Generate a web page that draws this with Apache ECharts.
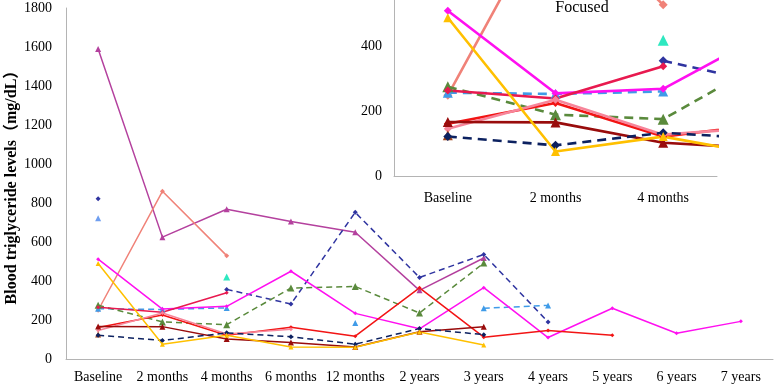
<!DOCTYPE html>
<html lang="en">
<head>
    <meta charset="UTF-8">
    <title>Blood triglyceride levels</title>
    <script src="https://cdn.jsdelivr.net/npm/echarts/dist/echarts.min.js"></script>
    <style>
        html, body { margin: 0; padding: 0; background: #fff; }
        #main { width: 774px; height: 385px; }
    </style>
</head>
<body>
<div id="main"></div>
<script>
    // x categories
    let categories = ['Baseline', '2 months', '4 months', '6 months', '12 months', '2 years', '3 years', '4 years', '5 years', '6 years', '7 years'];
    let insetCats = ['Baseline', '2 months', '4 months'];
    let yTicks = [0, 1800, 200];      // min, max, step of the big chart
    let insetTicks = [0, 545, 200];   // min, max, step of the focused chart

    // one array per patient (mg/dL), null = no measurement
    let purpleTri = [1590, 625, 768, 705, 650, 352, 518];
    let salmonLine = [250, 860, 530];
    let blueDash = [822, null, 357, 282, 752, 418, 536, 190];
    let lightBlueDash = [258, 254, 262, null, 185, null, 260, 275];
    let lightBlueBase = [722];
    let cyanPoint = [null, null, 420];
    let greenDash = [276, 190, 176, 364, 372, 236, 492];
    let magentaLine = [512, 256, 270, 450, 234, 155, 366, 110, 260, 132, 193];
    let redLine = [162, 226, 122, 163, 117, 365, 112, 146, 122];
    let crimsonLine = [265, 240, 340];
    let pinkLine = [146, 236, 128, 152];
    let darkRedTri = [167, 166, 103, 84, 62, 140, 165];
    let brownTri = [126];
    let navyDash = [122, 95, 134, 114, 76, 156, 125];
    let yellowLine = [490, 76, 122, 62, 60, 138, 72];

    const serif = '"Liberation Serif", "Times New Roman", "Noto Sans CJK SC", serif';
    const axisGray = '#b4b4b4';

    // data, colour, symbol, dashed?, symbol size (main)
    let patients = [
        [purpleTri, '#b4419e', 'triangle', false, 6],
        [salmonLine, '#f08278', 'diamond', false, 5],
        [blueDash, '#2f34a0', 'diamond', true, 5],
        [lightBlueDash, '#3f9be8', 'triangle', true, 6],
        [lightBlueBase, '#6f9ef0', 'triangle', false, 6],
        [cyanPoint, '#2ee8c0', 'triangle', false, 7],
        [greenDash, '#5a8a3c', 'triangle', true, 7],
        [magentaLine, '#ff10f0', 'diamond', false, 4],
        [redLine, '#f21414', 'diamond', false, 4],
        [crimsonLine, '#e8194f', 'diamond', false, 4],
        [pinkLine, '#f7859a', 'diamond', false, 4],
        [darkRedTri, '#990c0c', 'triangle', false, 6],
        [brownTri, '#a0441a', 'triangle', false, 6],
        [navyDash, '#0c2160', 'diamond', true, 5],
        [yellowLine, '#ffc000', 'triangle', false, 5]
    ];

    let series = [];
    patients.forEach(p => {
        series.push({
            type: 'line',
            xAxisIndex: 0,
            yAxisIndex: 0,
            data: p[0],
            connectNulls: false,
            symbol: p[2],
            symbolSize: p[4],
            color: p[1],
            lineStyle: {width: 1.5, type: p[3] ? [6, 4] : 'solid'},
            animation: false,
            z: 2
        });
    });
    // focused view: first four time points, cut at the grid edge
    patients.forEach(p => {
        let pts = [];
        for (let i = 0; i < 4 && i < p[0].length; i++) {
            pts.push([i, p[0][i] == null ? '-' : p[0][i]]);
        }
        series.push({
            type: 'line',
            xAxisIndex: 1,
            yAxisIndex: 1,
            data: pts,
            connectNulls: false,
            clip: true,
            symbol: p[2],
            symbolSize: p[4] + 4,
            color: p[1],
            lineStyle: {width: 2.6, type: p[3] ? [9, 6] : 'solid'},
            animation: false,
            z: 5
        });
    });

    let myChart = echarts.init(document.getElementById('main'));
    myChart.setOption({
        animation: false,
        backgroundColor: '#fff',
        title: {
            text: 'Focused', left: 582, top: 0, textAlign: 'center', padding: 0,
            textStyle: {fontFamily: serif, fontSize: 16, fontWeight: 'normal', color: '#000'}
        },
        grid: [
            {left: 66, right: 1, top: 8, bottom: 26, outerBoundsMode: 'none'},
            {left: 394, right: 57, top: 0, bottom: 209, outerBoundsMode: 'none', show: true, backgroundColor: '#fff', borderWidth: 0, z: 4}
        ],
        xAxis: [
            {
                type: 'category', gridIndex: 0, data: categories, boundaryGap: true,
                axisLine: {lineStyle: {color: axisGray}}, axisTick: {show: false},
                axisLabel: {fontFamily: serif, fontSize: 14, color: '#000', margin: 11, interval: 0}
            },
            {
                type: 'value', gridIndex: 1, min: -0.5, max: 2.5, interval: 0.5,
                axisLine: {onZero: false, lineStyle: {color: axisGray}}, axisTick: {show: false}, splitLine: {show: false},
                axisLabel: {
                    fontFamily: serif, fontSize: 14, color: '#000', margin: 15,
                    formatter: v => Number.isInteger(v) ? insetCats[v] : ''
                },
                z: 5
            }
        ],
        yAxis: [
            {
                type: 'value', gridIndex: 0, min: yTicks[0], max: yTicks[1], interval: yTicks[2],
                name: 'Blood triglyceride levels（mg/dL）', nameLocation: 'middle', nameGap: 46, nameMoveOverlap: false,
                nameTextStyle: {fontFamily: serif, fontSize: 16, fontWeight: 'bold', color: '#000'},
                axisLine: {show: true, lineStyle: {color: axisGray}}, axisTick: {show: false}, splitLine: {show: false},
                axisLabel: {fontFamily: serif, fontSize: 14, color: '#000', margin: 14, formatter: v => String(v)}
            },
            {
                type: 'value', gridIndex: 1, min: insetTicks[0], max: insetTicks[1], interval: insetTicks[2],
                axisLine: {show: true, onZero: false, lineStyle: {color: axisGray}}, axisTick: {show: false}, splitLine: {show: false},
                axisLabel: {fontFamily: serif, fontSize: 14, color: '#000', margin: 12, showMaxLabel: false, formatter: v => String(v)},
                z: 5
            }
        ],
        series: series
    });
</script>
</body>
</html>
